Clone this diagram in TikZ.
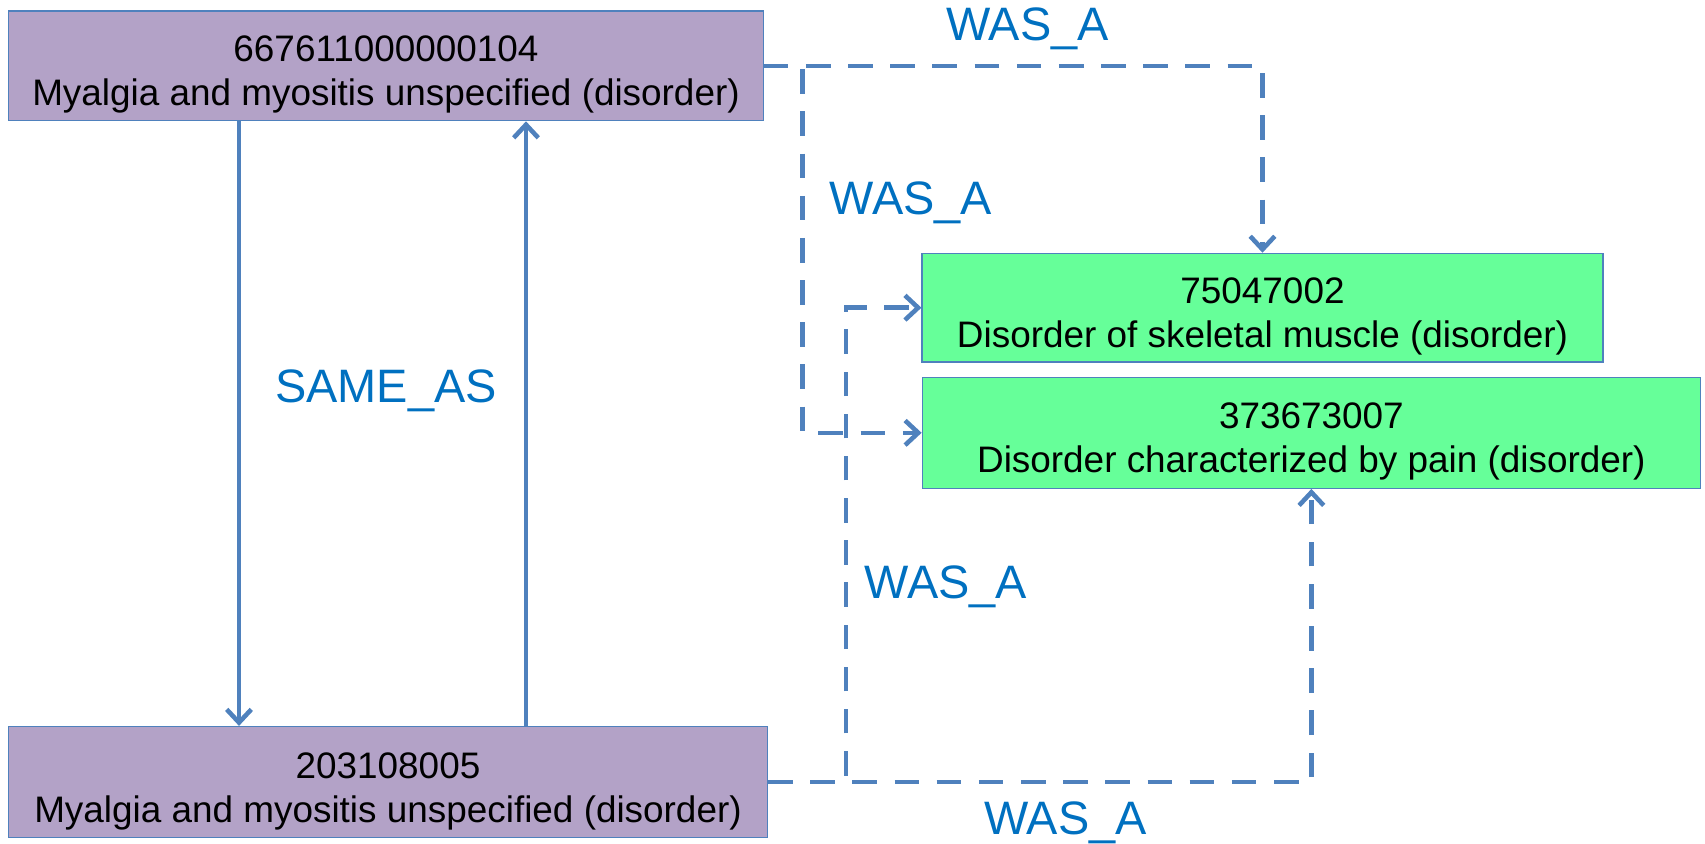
\documentclass[tikz,border=0pt]{standalone}
\usepackage{fontspec}
\setmainfont{Liberation Sans}
\usetikzlibrary{arrows.meta}
\definecolor{linec}{HTML}{4F81BD}
\definecolor{purplefill}{HTML}{B3A2C7}
\definecolor{greenfill}{HTML}{66FF99}
\definecolor{labelc}{HTML}{0070C0}
\newcommand\topstrut{\rule{0pt}{25pt}}
\tikzset{
  concept/.style={draw=linec, line width=0.7pt, inner sep=0pt, align=center,
    font=\fontsize{21}{25}\selectfont},
  oldbox/.style={concept, fill=purplefill},
  newbox/.style={concept, fill=greenfill},
  conn/.style={draw=linec, line width=2.6pt,
    -{Straight Barb[length=7.5pt,width=14pt,line width=2.6pt]}},
  dconn/.style={conn, dash pattern=on 14pt off 10pt},
  rel/.style={text=labelc, font=\fontsize{26.7}{30}\selectfont, inner sep=0pt}
}
\begin{document}
\begin{tikzpicture}[x=0.02cm,y=-0.02cm]
\useasboundingbox (0,0) rectangle (1705,843);
\node[oldbox, minimum width=15.09cm, minimum height=2.196cm] (t) at (386,65.8)
  {\topstrut 667611000000104\\Myalgia and myositis unspecified (disorder)};
\node[oldbox, minimum width=15.18cm, minimum height=2.22cm] (b) at (388,782)
  {\topstrut 203108005\\Myalgia and myositis unspecified (disorder)};
\node[newbox, minimum width=13.62cm, minimum height=2.174cm] (g1) at (1262.5,307.7)
  {\topstrut 75047002\\Disorder of skeletal muscle (disorder)};
\node[newbox, minimum width=15.57cm, minimum height=2.22cm] (g2) at (1311.4,432.8)
  {\topstrut 373673007\\Disorder characterized by pain (disorder)};
\coordinate (xd) at (239,0);
\coordinate (xu) at (526,0);
\coordinate (ja) at (802.5,0);
\coordinate (jb) at (846,0);
\draw[conn] (t.south -| xd) -- (b.north -| xd);
\draw[conn] (b.north -| xu) -- (t.south -| xu);
\draw[dconn] (t.east) -| (g1.north);
\draw[dconn] (t.east) -| (ja |- g2.west) -- (g2.west);
\draw[dconn] (b.east) -| (jb |- g1.west) -- (g1.west);
\draw[dconn] (b.east) -| (g2.south);
\node[rel] (l1) at (1027.6,28.5) {WAS\_A};
\node[rel] (l2) at (911,202.5) {WAS\_A};
\node[rel] (l3) at (386,390.5) {SAME\_AS};
\node[rel] (l4) at (946,586.5) {WAS\_A};
\node[rel] (l5) at (1065.6,822.5) {WAS\_A};
\end{tikzpicture}
\end{document}
